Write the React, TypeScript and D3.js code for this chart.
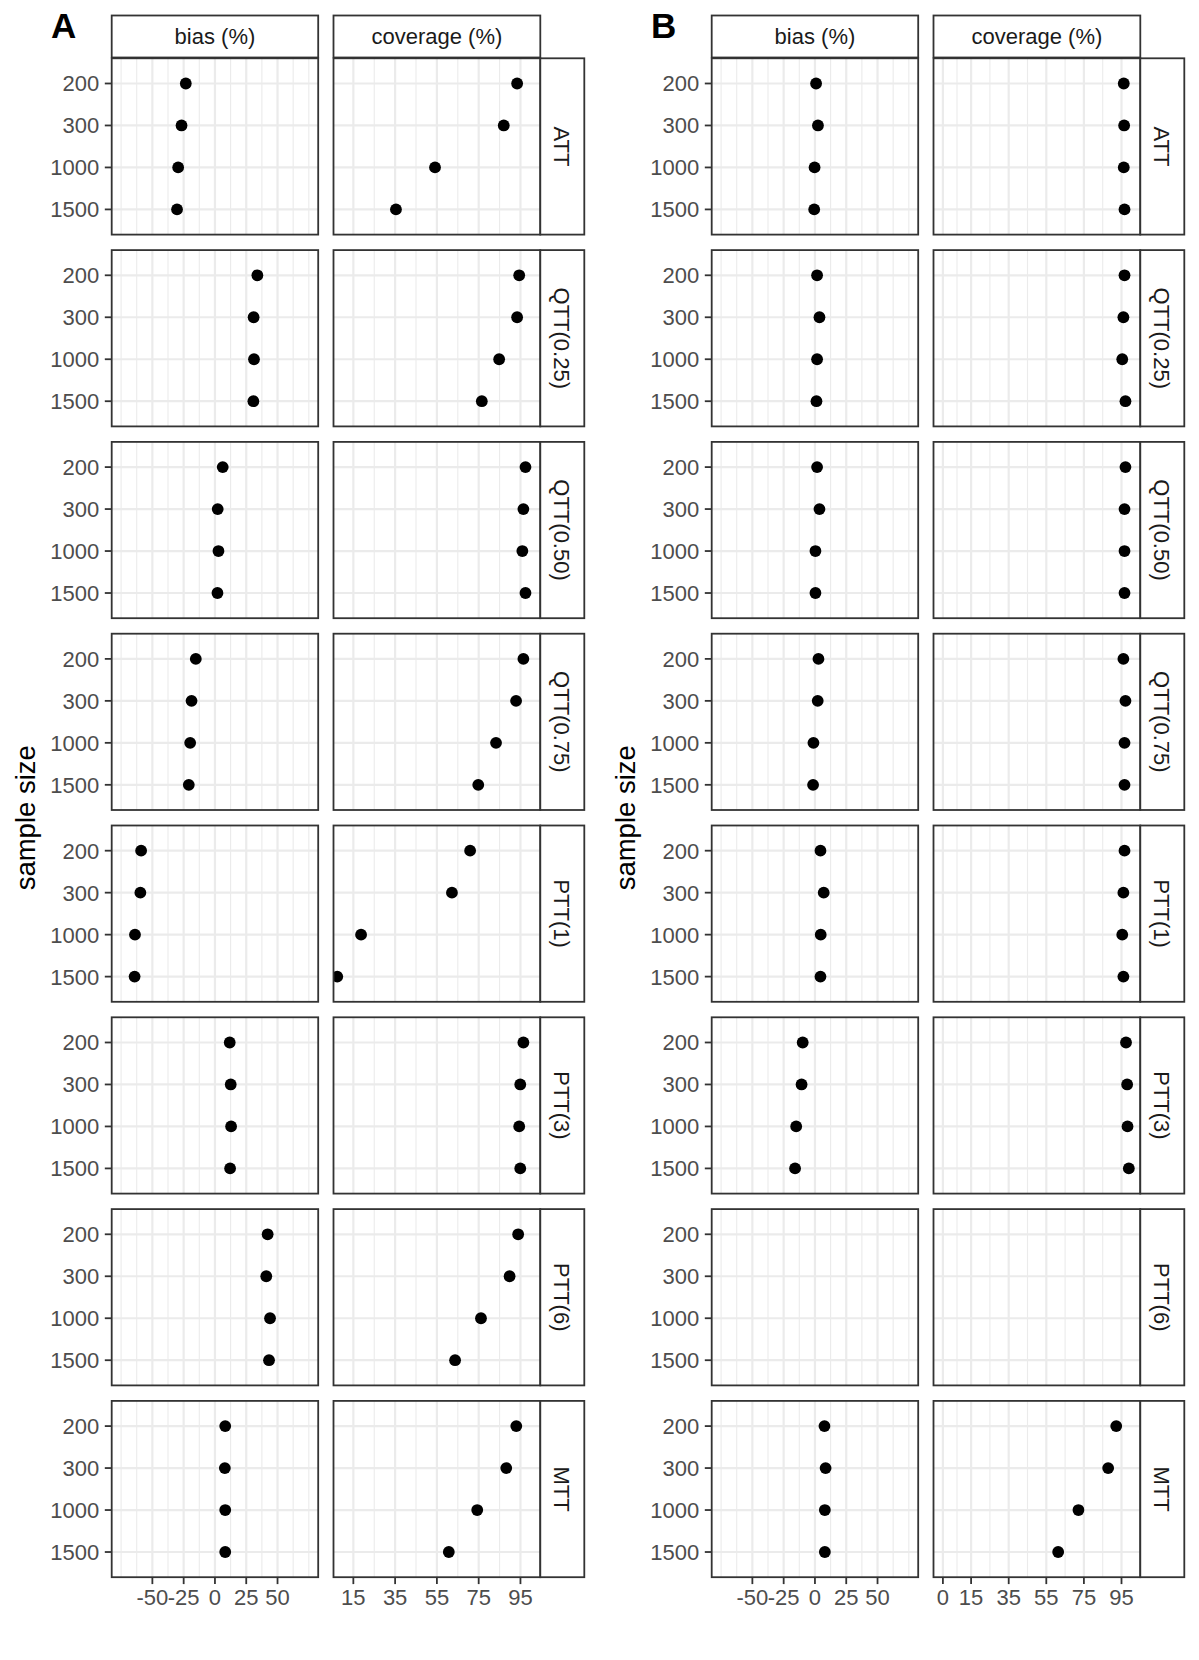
import React, { useEffect, useRef } from "react";
import * as d3 from "d3";

const sampleSizes = ["200", "300", "1000", "1500"];
const estimands = ["ATT", "QTT(0.25)", "QTT(0.50)", "QTT(0.75)", "PTT(1)", "PTT(3)", "PTT(6)", "MTT"];
const measures = ["bias (%)", "coverage (%)"];

// one row per estimand, values for n = 200, 300, 1000, 1500
const biasA = [
  [-23.3, -26.7, -29.4, -30.3],
  [33.9, 30.9, 31.2, 30.7],
  [6.2, 2.2, 2.8, 2.0],
  [-15.3, -18.7, -19.8, -20.9],
  [-59.0, -59.6, -63.9, -64.2],
  [11.8, 12.6, 12.9, 12.1],
  [42.1, 41.0, 44.0, 43.2],
  [8.2, 7.9, 8.2, 8.2],
];
const coverageA = [
  [93.4, 87.0, 54.1, 35.4],
  [94.4, 93.4, 84.8, 76.5],
  [97.4, 96.4, 95.9, 97.4],
  [96.4, 92.9, 83.3, 74.8],
  [70.9, 62.2, 18.7, 7.3],
  [96.4, 94.9, 94.4, 94.9],
  [93.9, 89.8, 76.1, 63.7],
  [93.0, 88.2, 74.3, 60.7],
];
const biasB = [
  [0.9, 2.4, -0.3, -0.6],
  [1.7, 3.6, 1.7, 1.2],
  [1.7, 3.6, 0.4, 0.4],
  [2.8, 2.2, -1.2, -1.5],
  [4.4, 7.0, 4.6, 4.4],
  [-9.8, -10.7, -15.0, -15.9],
  [null, null, null, null],
  [7.6, 8.5, 7.9, 7.9],
];
const coverageB = [
  [96.2, 96.4, 96.2, 96.6],
  [96.6, 96.0, 95.4, 97.1],
  [97.1, 96.6, 96.6, 96.6],
  [96.0, 97.1, 96.6, 96.6],
  [96.6, 96.0, 95.4, 96.0],
  [97.4, 98.0, 98.2, 98.9],
  [null, null, null, null],
  [92.2, 87.9, 72.1, 61.3],
];

const biasTicks = [-50, -25, 0, 25, 50];
const coverageTicksA = [15, 35, 55, 75, 95];
const coverageTicksB = [0, 15, 35, 55, 75, 95];
const biasLimits = [-75, 75];
const coverageLimitsA = [10, 100];
const coverageLimitsB = [0, 100];

const FONT = "'Liberation Sans', Arial, Helvetica, sans-serif";
const W = 1199;
const H = 1660;

// ggplot-like 5% expansion
const expand = (lim: number[]) => {
  const d = (lim[1] - lim[0]) * 0.05;
  return [lim[0] - d, lim[1] + d];
};

// ggplot's regular minor breaks: midpoints, extended one step beyond the majors
const minorBreaks = (major: number[], domain: number[]) => {
  const b = major.filter((v) => v >= domain[0] && v <= domain[1]);
  const n = b.length;
  const ext = [b[0] - (b[1] - b[0]), ...b, b[n - 1] + (b[n - 1] - b[n - 2])];
  const out: number[] = [];
  for (let i = 0; i < ext.length - 1; i++) out.push(ext[i], (ext[i] + ext[i + 1]) / 2);
  out.push(ext[ext.length - 1]);
  return out.filter((v) => v >= domain[0] && v <= domain[1] && !b.includes(v));
};

const App = () => {
  const svgRef = useRef<SVGSVGElement>(null);

  useEffect(() => {
    const svg = d3.select(svgRef.current);
    svg.selectAll("*").remove();

    const colX = [
      [111.7, 318.2],
      [333.5, 540.3],
    ];
    const stripRight = 584.3;
    const stripTop = 15.5;
    const stripBottom = 57.5;
    const panelTop = 58.3;
    const panelH = 176.3;
    const rowPitch = 191.8;
    const tickLen = 6.9;
    const bottom = panelTop + 7 * rowPitch + panelH;

    const figures = [
      { tag: "A", offset: 0, bias: biasA, coverage: coverageA, covTicks: coverageTicksA, covLimits: coverageLimitsA },
      { tag: "B", offset: 600, bias: biasB, coverage: coverageB, covTicks: coverageTicksB, covLimits: coverageLimitsB },
    ];

    const defs = svg.append("defs");

    figures.forEach((fig, fi) => {
      const g = svg.append("g").attr("transform", `translate(${fig.offset},0)`);

      g.append("text")
        .attr("x", 51)
        .attr("y", 38)
        .attr("font-family", FONT)
        .attr("font-weight", "bold")
        .attr("font-size", 35)
        .attr("fill", "#000")
        .text(fig.tag);

      g.append("text")
        .attr("transform", `translate(35,${(panelTop + bottom) / 2}) rotate(-90)`)
        .attr("text-anchor", "middle")
        .attr("font-family", FONT)
        .attr("font-size", 27.5)
        .attr("fill", "#000")
        .text("sample size");

      const cols = [
        { data: fig.bias, ticks: biasTicks, domain: expand(biasLimits) },
        { data: fig.coverage, ticks: fig.covTicks, domain: expand(fig.covLimits) },
      ];

      cols.forEach((col, ci) => {
        const [x0, x1] = colX[ci];
        const x = d3.scaleLinear().domain(col.domain).range([x0, x1]);
        const majors = col.ticks.filter((v) => v >= col.domain[0] && v <= col.domain[1]);
        const minors = minorBreaks(col.ticks, col.domain);

        // column strip
        g.append("rect")
          .attr("x", x0)
          .attr("y", stripTop)
          .attr("width", x1 - x0)
          .attr("height", stripBottom - stripTop)
          .attr("fill", "#fff")
          .attr("stroke", "#333")
          .attr("stroke-width", 1.8);
        g.append("text")
          .attr("x", (x0 + x1) / 2)
          .attr("y", (stripTop + stripBottom) / 2 + 7.9)
          .attr("text-anchor", "middle")
          .attr("font-family", FONT)
          .attr("font-size", 22)
          .attr("fill", "#1A1A1A")
          .text(measures[ci]);

        estimands.forEach((est, ri) => {
          const top = panelTop + ri * rowPitch;
          const y = d3.scalePoint().domain(sampleSizes).range([top, top + panelH]).padding(0.6);
          const clipId = `clip-${fi}-${ci}-${ri}`;
          // clip rect lives in the user space of the translated group
          defs.append("clipPath").attr("id", clipId)
            .append("rect")
            .attr("x", x0)
            .attr("y", top)
            .attr("width", x1 - x0)
            .attr("height", panelH);

          const p = g.append("g");
          p.append("rect")
            .attr("x", x0).attr("y", top)
            .attr("width", x1 - x0).attr("height", panelH)
            .attr("fill", "#fff");

          p.selectAll(".minor")
            .data(minors)
            .join("line")
            .attr("x1", (d) => x(d)).attr("x2", (d) => x(d))
            .attr("y1", top).attr("y2", top + panelH)
            .attr("stroke", "#EBEBEB")
            .attr("stroke-width", 1.1);
          p.selectAll(".major")
            .data(majors)
            .join("line")
            .attr("x1", (d) => x(d)).attr("x2", (d) => x(d))
            .attr("y1", top).attr("y2", top + panelH)
            .attr("stroke", "#EBEBEB")
            .attr("stroke-width", 2.2);
          p.selectAll(".hgrid")
            .data(sampleSizes)
            .join("line")
            .attr("x1", x0).attr("x2", x1)
            .attr("y1", (d) => y(d)).attr("y2", (d) => y(d))
            .attr("stroke", "#EBEBEB")
            .attr("stroke-width", 2.2);

          const pts = sampleSizes
            .map((n, k) => ({ n, v: col.data[ri][k] }))
            .filter((d) => d.v !== null);
          g.append("g")
            .attr("clip-path", `url(#${clipId})`)
            .selectAll("circle")
            .data(pts)
            .join("circle")
            .attr("cx", (d) => x(d.v as number))
            .attr("cy", (d) => y(d.n) as number)
            .attr("r", 5.9)
            .attr("fill", "#000");

          g.append("rect")
            .attr("x", x0).attr("y", top)
            .attr("width", x1 - x0).attr("height", panelH)
            .attr("fill", "none")
            .attr("stroke", "#333")
            .attr("stroke-width", 1.8);

          if (ci === 0) {
            g.selectAll(null)
              .data(sampleSizes)
              .join("line")
              .attr("x1", x0 - tickLen).attr("x2", x0)
              .attr("y1", (d) => y(d)).attr("y2", (d) => y(d))
              .attr("stroke", "#333")
              .attr("stroke-width", 1.8);
            g.selectAll(null)
              .data(sampleSizes)
              .join("text")
              .attr("x", x0 - tickLen - 5.5)
              .attr("y", (d) => (y(d) as number) + 7.9)
              .attr("text-anchor", "end")
              .attr("font-family", FONT)
              .attr("font-size", 22)
              .attr("fill", "#4D4D4D")
              .text((d) => d);
          } else {
            // row strip
            g.append("rect")
              .attr("x", x1).attr("y", top)
              .attr("width", stripRight - x1).attr("height", panelH)
              .attr("fill", "#fff")
              .attr("stroke", "#333")
              .attr("stroke-width", 1.8);
            g.append("text")
              .attr("transform", `translate(${(x1 + stripRight) / 2 - 7.9},${top + panelH / 2}) rotate(90)`)
              .attr("text-anchor", "middle")
              .attr("font-family", FONT)
              .attr("font-size", 22)
              .attr("fill", "#1A1A1A")
              .text(est);
          }
        });

        // bottom axis
        g.selectAll(null)
          .data(majors)
          .join("line")
          .attr("x1", (d) => x(d)).attr("x2", (d) => x(d))
          .attr("y1", bottom).attr("y2", bottom + tickLen)
          .attr("stroke", "#333")
          .attr("stroke-width", 1.8);
        g.selectAll(null)
          .data(majors)
          .join("text")
          .attr("x", (d) => x(d))
          .attr("y", bottom + tickLen + 5.5 + 15.8)
          .attr("text-anchor", "middle")
          .attr("font-family", FONT)
          .attr("font-size", 22)
          .attr("fill", "#4D4D4D")
          .text((d) => String(d));
      });
    });
  }, []);

  return (
    <svg
      ref={svgRef}
      width={W}
      height={H}
      style={{ position: "absolute", left: 0, top: 0, background: "#fff" }}
    />
  );
};

export default App;
